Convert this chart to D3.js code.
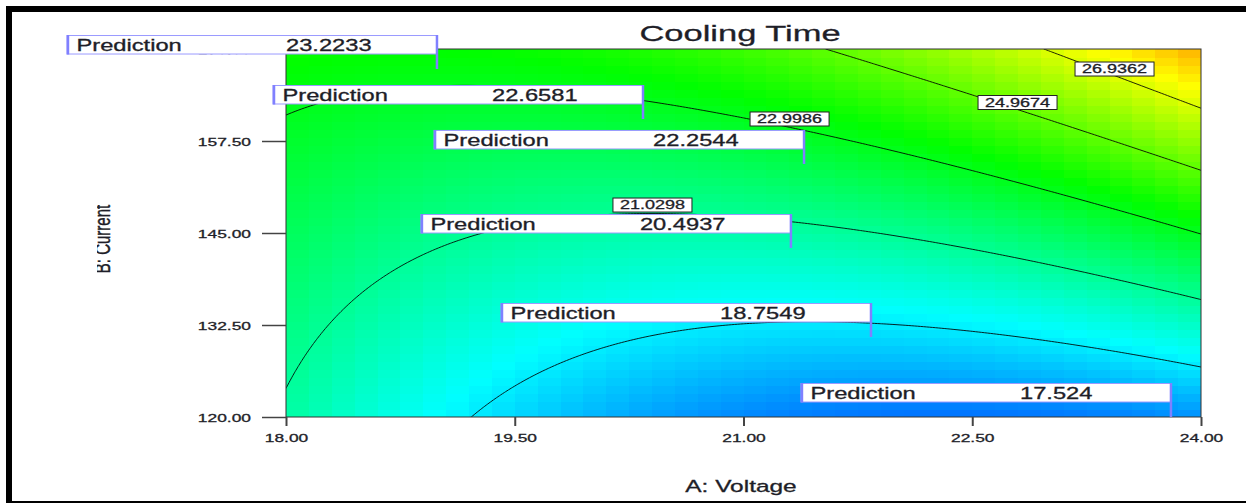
<!DOCTYPE html>
<html>
<head>
<meta charset="utf-8">
<script src="https://cdn.jsdelivr.net/npm/d3@7"></script>
<style>
  html, body { margin: 0; padding: 0; background: #fff; }
  svg { display: block; }
  text { font-family: Arial, "Liberation Sans", sans-serif; fill: #1e1e28; stroke: #1e1e28; stroke-width: 0.3px; }
</style>
</head>
<body>
<svg id="chart" width="1246" height="503"></svg>
<script>
// Factor ranges (actual units) and axis ticks
const voltageRange = [18, 24];
const currentRange = [120, 170];
const voltageTicks = [18, 19.5, 21, 22.5, 24];
const currentTicks = [120, 132.5, 145, 157.5, 170];

// Quadratic response-surface model in coded factors (a = voltage, b = current, each -1..1)
const modelTerms = ["Intercept", "A", "B", "AB", "A^2", "B^2"];
const modelCoefficients = [20.73, 0.50, 3.49, 2.12, 1.80, 0.22];

// Contour levels, and the points where the labelled ones carry their value
const contourLevels = [19.061, 21.0298, 22.9986, 24.9674, 26.9362];
const labelLevels = [21.0298, 22.9986, 24.9674, 26.9362];
const labelVoltage = [20.403, 21.302, 22.797, 23.433];
const labelCurrent = [148.80, 160.49, 162.73, 167.28];

// Prediction flags: factor settings and predicted cooling time
const flagVoltage = [18.990, 20.341, 21.397, 21.311, 21.836, 23.803];
const flagCurrent = [167.28, 160.49, 154.38, 142.96, 130.87, 120.0];
const flagPrediction = [23.2233, 22.6581, 22.2544, 20.4937, 18.7549, 17.524];

// Colour ramp across the response range
const colorStops = [15.3, 19.375, 23.45, 27.525, 31.6];
const colorRamp = ["#0000ff", "#00ffff", "#00ff00", "#ffff00", "#ff0000"];

// ---------------------------------------------------------------------------
const svg = d3.select("#chart");
const plot = { left: 286, right: 1201, top: 49, bottom: 417 };
const x = d3.scaleLinear().domain(voltageRange).range([plot.left, plot.right]);
const y = d3.scaleLinear().domain(currentRange).range([plot.bottom, plot.top]);
const color = d3.scaleLinear().domain(colorStops).range(colorRamp).clamp(true);

const midA = (voltageRange[0] + voltageRange[1]) / 2, halfA = (voltageRange[1] - voltageRange[0]) / 2;
const midB = (currentRange[0] + currentRange[1]) / 2, halfB = (currentRange[1] - currentRange[0]) / 2;
function predict(A, B) {
  const a = (A - midA) / halfA, b = (B - midB) / halfB, c = modelCoefficients;
  return c[0] + c[1] * a + c[2] * b + c[3] * a * b + c[4] * a * a + c[5] * b * b;
}

// Outer black frame
svg.append("rect").attr("x", 6).attr("y", 6).attr("width", 1240).attr("height", 6).attr("fill", "#000");
svg.append("rect").attr("x", 6).attr("y", 6).attr("width", 6).attr("height", 497).attr("fill", "#000");
svg.append("rect").attr("x", 6).attr("y", 501).attr("width", 1240).attr("height", 2).attr("fill", "#000");

svg.append("defs").append("clipPath").attr("id", "plotClip")
  .append("rect").attr("x", plot.left).attr("y", plot.top)
  .attr("width", plot.right - plot.left).attr("height", plot.bottom - plot.top);

// Shaded surface as a grid of cells
const nx = 40, ny = 46;
const cells = [];
for (let i = 0; i < nx; i++) {
  for (let j = 0; j < ny; j++) {
    const A0 = voltageRange[0] + (i / nx) * (voltageRange[1] - voltageRange[0]);
    const A1 = voltageRange[0] + ((i + 1) / nx) * (voltageRange[1] - voltageRange[0]);
    const B0 = currentRange[0] + (j / ny) * (currentRange[1] - currentRange[0]);
    const B1 = currentRange[0] + ((j + 1) / ny) * (currentRange[1] - currentRange[0]);
    cells.push({ A0, A1, B0, B1, v: predict((A0 + A1) / 2, (B0 + B1) / 2) });
  }
}
svg.append("g").attr("clip-path", "url(#plotClip)")
  .selectAll("rect").data(cells).join("rect")
  .attr("x", d => x(d.A0)).attr("y", d => y(d.B1))
  .attr("width", d => x(d.A1) - x(d.A0) + 0.6)
  .attr("height", d => y(d.B0) - y(d.B1) + 0.6)
  .attr("fill", d => color(d.v))
  .attr("shape-rendering", "crispEdges");

// Contour lines from a fine sample grid
const gx = 301, gy = 151;
const stepA = (voltageRange[1] - voltageRange[0]) / (gx - 1);
const stepB = (currentRange[1] - currentRange[0]) / (gy - 1);
const grid = new Array(gx * gy);
for (let j = 0; j < gy; j++) {
  for (let i = 0; i < gx; i++) {
    grid[j * gx + i] = predict(voltageRange[0] + i * stepA, currentRange[1] - j * stepB);
  }
}
const contours = d3.contours().size([gx, gy]).thresholds(contourLevels)(grid);
const toPlot = d3.geoTransform({
  point(cx, cy) {
    this.stream.point(x(voltageRange[0] + (cx - 0.5) * stepA), y(currentRange[1] - (cy - 0.5) * stepB));
  }
});
svg.append("g").attr("clip-path", "url(#plotClip)")
  .selectAll("path").data(contours).join("path")
  .attr("d", d3.geoPath(toPlot))
  .attr("fill", "none")
  .attr("stroke", "#000")
  .attr("stroke-opacity", 0.85)
  .attr("stroke-width", 1);

// Plot border
svg.append("rect").attr("x", plot.left).attr("y", plot.top)
  .attr("width", plot.right - plot.left).attr("height", plot.bottom - plot.top)
  .attr("fill", "none").attr("stroke", "#333").attr("stroke-width", 1);

// Stretched text helper
const SX = 1.5;
function stretchedText(g, tx, ty, str, size, anchor) {
  return g.append("text")
    .attr("transform", `translate(${tx},${ty}) scale(${SX},1)`)
    .attr("text-anchor", anchor || "start")
    .attr("font-size", size)
    .text(str);
}

// Axes
const fmt = d3.format(".2f");
const yAxis = svg.append("g").attr("transform", `translate(${plot.left},0)`)
  .call(d3.axisLeft(y).tickValues(currentTicks).tickFormat(fmt).tickSize(24));
yAxis.select(".domain").remove();
yAxis.selectAll(".tick line").attr("stroke", "#444").attr("stroke-width", 1.5);
yAxis.selectAll(".tick text").each(function () {
  d3.select(this).attr("x", null).attr("dy", null)
    .attr("transform", `translate(-35,4.2) scale(${SX},1)`)
    .attr("text-anchor", "end").attr("font-size", 11.6)
    .attr("font-family", null).attr("fill", "#1e1e28");
});

const xAxis = svg.append("g").attr("transform", `translate(0,${plot.bottom})`)
  .call(d3.axisBottom(x).tickValues(voltageTicks).tickFormat(fmt).tickSize(9));
xAxis.select(".domain").remove();
xAxis.selectAll(".tick line").attr("stroke", "#444").attr("stroke-width", 2);
xAxis.selectAll(".tick text").each(function () {
  d3.select(this).attr("y", null).attr("dy", null)
    .attr("transform", `translate(0,24.7) scale(${SX},1)`)
    .attr("text-anchor", "middle").attr("font-size", 11.6)
    .attr("font-family", null).attr("fill", "#1e1e28");
});

// Titles
stretchedText(svg, 740, 40.5, "Cooling Time", 23, "middle");
stretchedText(svg, 741, 491.5, "A: Voltage", 16.3, "middle");
svg.append("clipPath").attr("id", "yTitleClip")
  .append("rect").attr("x", 97).attr("y", 150).attr("width", 40).attr("height", 180);
svg.append("g").attr("clip-path", "url(#yTitleClip)")
  .append("text")
  .attr("transform", `translate(110,239) scale(${SX},1) rotate(-90)`)
  .attr("text-anchor", "middle").attr("font-size", 15)
  .text("B: Current");

// Contour value labels
const lab = svg.append("g");
labelLevels.forEach((lv, k) => {
  const cx = x(labelVoltage[k]), cy = y(labelCurrent[k]);
  lab.append("rect").attr("x", cx - 39.5).attr("y", cy - 7)
    .attr("width", 79).attr("height", 14)
    .attr("fill", "#fff").attr("stroke", "#222").attr("stroke-width", 1);
  stretchedText(lab, cx, cy + 4.4, d3.format(".4f")(lv), 12, "middle");
});

// Prediction flags
const flags = svg.append("g");
flagPrediction.forEach((p, k) => {
  const px = x(flagVoltage[k]), py = y(flagCurrent[k]);
  const left = px - 370, top = py - 34;
  flags.append("rect").attr("x", left).attr("y", top + 0.5)
    .attr("width", 370).attr("height", 18.5)
    .attr("fill", "#fff").attr("stroke", "#9a9aff").attr("stroke-width", 1);
  flags.append("line").attr("x1", left + 1).attr("x2", left + 1)
    .attr("y1", top).attr("y2", top + 19.5)
    .attr("stroke", "#8080ff").attr("stroke-width", 2.5);
  flags.append("line").attr("x1", px).attr("x2", px)
    .attr("y1", top).attr("y2", py)
    .attr("stroke", "#8080ff").attr("stroke-width", 2.5);
  stretchedText(flags, left + 9.5, top + 15.7, "Prediction", 15.8, "start");
  stretchedText(flags, left + 219, top + 15.7, String(+p.toFixed(4)), 15.8, "start");
});
</script>
</body>
</html>
